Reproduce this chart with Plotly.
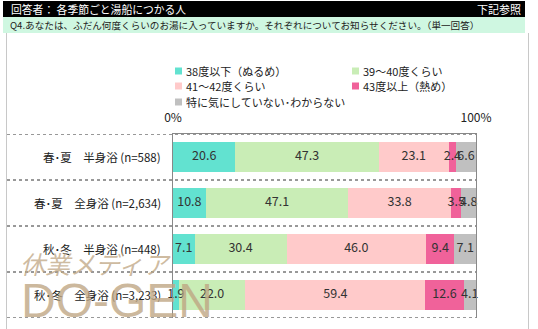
import plotly.graph_objects as go
import numpy as np

W, H = 538, 329

categories = ["春･夏　半身浴 (n=588)", "春･夏　全身浴 (n=2,634)",
              "秋･冬　半身浴 (n=448)", "秋･冬　全身浴 (n=3,233)"]
series_names = ["38度以下（ぬるめ）", "39～40度くらい", "41～42度くらい",
                "43度以上（熱め）", "特に気にしていない･わからない"]
v_38 = [20.6, 10.8, 7.1, 1.9]
v_39_40 = [47.3, 47.1, 30.4, 22.0]
v_41_42 = [23.1, 33.8, 46.0, 59.4]
v_43 = [2.4, 3.5, 9.4, 12.6]
v_none = [6.6, 4.8, 7.1, 4.1]
values = [v_38, v_39_40, v_41_42, v_43, v_none]
colors = ["#62E2D0", "#C9EDB6", "#FFCACA", "#F0629A", "#C0C0C0"]
tick_vals = [0, 100]
tick_text = ["0%", "100%"]

header_left = "回答者： 各季節ごと湯船につかる人"
header_right = "下記参照"
question = "Q4.あなたは、ふだん何度くらいのお湯に入っていますか。それぞれについてお知らせください。（単一回答）"

FONT = "Noto Sans CJK JP, Meiryo, sans-serif"


def px(x):
    return x / W


def py(y):
    return 1 - y / H


fig = go.Figure()
for name, vals, col in zip(series_names, values, colors):
    fig.add_trace(go.Bar(
        y=categories, x=vals, name=name, orientation="h",
        marker=dict(color=col, line=dict(width=0)), width=0.67,
        showlegend=False, hoverinfo="x+name"))

# value labels at segment centers
cum = np.zeros(len(categories))
lx, ly, lt = [], [], []
for vals in values:
    arr = np.array(vals)
    centers = cum + arr / 2
    for c, yv, v in zip(centers, categories, arr):
        lx.append(c)
        ly.append(yv)
        lt.append(f"{v:.1f}")
    cum = cum + arr
fig.add_trace(go.Scatter(x=lx, y=ly, text=lt, mode="text",
                         textfont=dict(size=12.5, color="#333333", family=FONT),
                         showlegend=False, hoverinfo="skip", cliponaxis=False))

shapes = []
annotations = []

# header bands
shapes.append(dict(type="rect", xref="paper", yref="paper", x0=px(3), x1=px(525),
                   y0=py(17), y1=py(1), fillcolor="#000000", line=dict(width=0), layer="below"))
shapes.append(dict(type="rect", xref="paper", yref="paper", x0=px(3), x1=px(525),
                   y0=py(33), y1=py(17), fillcolor="#CFF7E1", line=dict(width=0), layer="below"))
# frame side lines
for xx in (6.5, 528.5):
    shapes.append(dict(type="line", xref="paper", yref="paper", x0=px(xx), x1=px(xx),
                       y0=py(33), y1=py(329), line=dict(color="#C8C8C8", width=1)))
# dotted separators
for yv in [-0.5, 0.5, 1.5, 2.5, 3.5]:
    shapes.append(dict(type="line", xref="paper", yref="y", x0=px(7), x1=px(476),
                       y0=yv, y1=yv, line=dict(color="#333333", width=1, dash="dot")))

annotations.append(dict(text=header_left, xref="paper", yref="paper", x=px(9), y=py(9),
                        xanchor="left", yanchor="middle", showarrow=False,
                        font=dict(size=10.8, color="#FFFFFF", family=FONT)))
annotations.append(dict(text=header_right, xref="paper", yref="paper", x=px(523), y=py(9),
                        xanchor="right", yanchor="middle", showarrow=False,
                        font=dict(size=11, color="#FFFFFF", family=FONT)))
annotations.append(dict(text=question, xref="paper", yref="paper", x=px(8), y=py(25),
                        xanchor="left", yanchor="middle", showarrow=False,
                        font=dict(size=9.6, color="#222222", family=FONT)))

# legend (manual)
leg_pos = [(175, 71), (352, 71), (175, 86), (352, 86), (175, 102)]
for name, col, (lxp, lyp) in zip(series_names, colors, leg_pos):
    shapes.append(dict(type="rect", xref="paper", yref="paper", x0=px(lxp), x1=px(lxp + 7),
                       y0=py(lyp + 3.5), y1=py(lyp - 3.5), fillcolor=col, line=dict(width=0)))
    annotations.append(dict(text=name, xref="paper", yref="paper", x=px(lxp + 9), y=py(lyp),
                            xanchor="left", yanchor="middle", showarrow=False,
                            font=dict(size=11, color="#222222", family=FONT)))

# category labels
for c in categories:
    annotations.append(dict(text=c, xref="paper", yref="y", x=px(163), y=c,
                            xanchor="right", yanchor="middle", showarrow=False,
                            font=dict(size=11.5, color="#222222", family=FONT)))

# watermark
annotations.append(dict(text="休業メディア", xref="paper", yref="paper", x=px(18), y=py(263),
                        xanchor="left", yanchor="middle", showarrow=False,
                        font=dict(size=25, color="rgba(190,165,130,0.75)", family=FONT,
                                  style="italic")))
annotations.append(dict(text="DO-GEN", xref="paper", yref="paper", x=px(19), y=py(272),
                        xanchor="left", yanchor="top", showarrow=False,
                        font=dict(size=48, color="rgba(190,165,130,0.78)",
                                  family="Liberation Sans Narrow, Liberation Sans")))

fig.update_layout(
    width=W, height=H, autosize=False,
    margin=dict(l=0, r=0, t=0, b=0, pad=0, autoexpand=False),
    paper_bgcolor="#FFFFFF", plot_bgcolor="#FFFFFF",
    barmode="stack", bargap=0.33,
    font=dict(family=FONT, color="#222222"),
    showlegend=False,
    shapes=shapes, annotations=annotations,
    xaxis=dict(domain=[px(173), px(476)], range=[0, 100], side="top",
               showline=True, linecolor="#888888", linewidth=1,
               tickvals=tick_vals, ticktext=tick_text, ticks="",
               tickfont=dict(size=12, color="#222222"), ticklabelstandoff=6,
               showgrid=False, zeroline=False, fixedrange=True, automargin=False),
    yaxis=dict(domain=[py(318), py(134)], type="category",
               categoryorder="array", categoryarray=categories,
               range=[3.5, -0.5], showline=True, mirror=True,
               linecolor="#888888", linewidth=1, showticklabels=False,
               showgrid=False, zeroline=False, fixedrange=True, automargin=False),
)

fig.write_html("out.html")
